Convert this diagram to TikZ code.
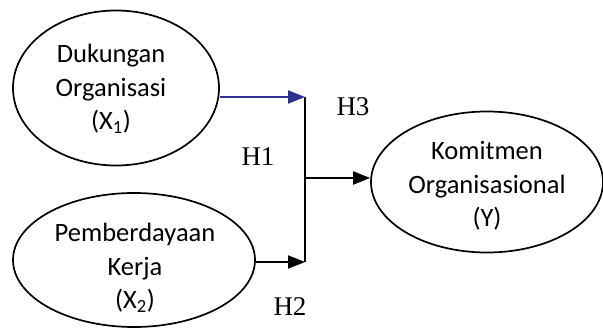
\documentclass[tikz,border=0pt]{standalone}
\usepackage{fontspec}
\setmainfont{Liberation Serif}
\newfontfamily\calfont{Carlito}
\usetikzlibrary{shapes.geometric,arrows.meta}
\definecolor{arrowblue}{RGB}{46,49,146}
\begin{document}
\begin{tikzpicture}[x=1pt,y=1pt,
  var/.style={draw, ellipse, line width=1.7pt, inner sep=0pt},
  vartext/.style={align=center, inner sep=0pt, font=\calfont\fontsize{26.5}{33.5}\selectfont},
  link/.style={line width=2pt, -{Triangle[length=17pt,width=13pt]}},
  hlabel/.style={font=\fontsize{27}{30}\selectfont, inner sep=0pt}]
\useasboundingbox (0,0) rectangle (603,329);
\node[var, minimum width=206pt, minimum height=155pt] (e1) at (116,241) {};
\node[var, minimum width=242pt, minimum height=134pt] (e2) at (134,69) {};
\node[var, minimum width=232pt, minimum height=141pt] (e3) at (487,147) {};
\node[vartext] (t1) at (111,240) {Dukungan\\Organisasi\\(X\textsubscript{1})};
\node[vartext] (t2) at (135,61) {Pemberdayaan\\Kerja\\(X\textsubscript{2})};
\node[vartext] (t3) at (487,143) {Komitmen\\Organisasional\\(Y)};
\coordinate (top) at (305,232);
\coordinate (bot) at (305,67);
\coordinate (mid) at (305,151);
\draw[line width=2pt] (top) -- (bot);
\draw[link, arrowblue] (e1.east |- top) -- (top);
\draw[link] (e2.east |- bot) -- (bot);
\draw[link] (mid) -- (mid -| e3.west);
\node[hlabel] (h3) at (353,222) {H3};
\node[hlabel] (h1) at (258,172) {H1};
\node[hlabel] (h2) at (290,22) {H2};
\end{tikzpicture}
\end{document}
